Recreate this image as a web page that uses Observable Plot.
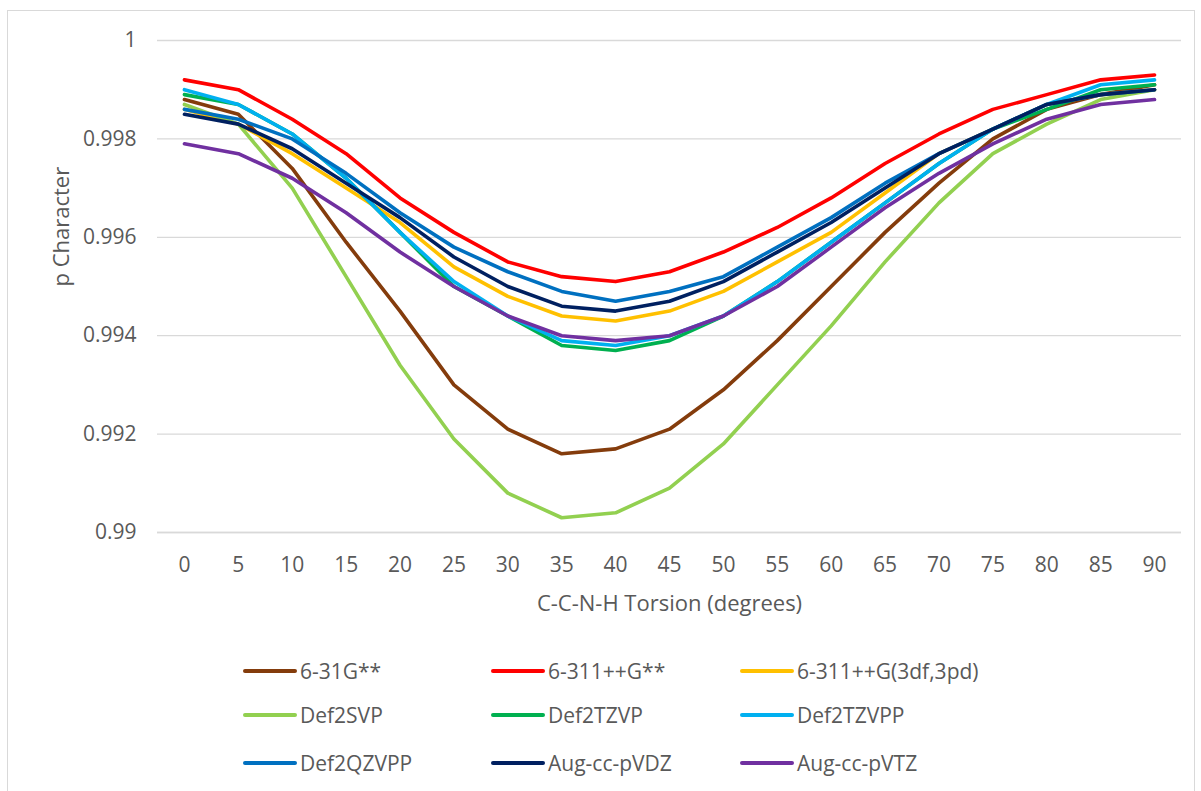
<!DOCTYPE html>
<html>
<head>
<meta charset="utf-8">
<script src="https://cdn.jsdelivr.net/npm/d3@7"></script>
<script src="https://cdn.jsdelivr.net/npm/@observablehq/plot@0.6"></script>
<style>
  html, body { margin: 0; padding: 0; background: #fff; }
  body { width: 1201px; height: 791px; position: relative; overflow: hidden; font-family: "Open Sans", sans-serif; color: #595959; }
  #frame { position: absolute; left: 7px; top: 10px; width: 1188px; height: 800px; border: 1.3px solid #d9d9d9; box-sizing: border-box; }
  #chart { position: absolute; left: 0; top: 0; }
  #legend { position: absolute; left: 0; top: 0; width: 1201px; }
  .item { position: absolute; display: flex; align-items: center; font-size: 21px; white-space: nowrap; transform: translateY(-50%); }
  .swatch { display: inline-block; width: 54px; height: 4px; border-radius: 2px; margin-right: 3px; }
</style>
</head>
<body>
<div id="frame"></div>
<div id="chart"></div>
<div id="legend"></div>
<script>
// Torsion angles (x categories)
const torsion = [0, 5, 10, 15, 20, 25, 30, 35, 40, 45, 50, 55, 60, 65, 70, 75, 80, 85, 90];

// Series values (p character)
const b631Gss      = [0.9988, 0.9985, 0.9974, 0.9959, 0.9945, 0.9930, 0.9921, 0.9916, 0.9917, 0.9921, 0.9929, 0.9939, 0.9950, 0.9961, 0.9971, 0.9980, 0.9986, 0.9989, 0.9991];
const b6311ppGss   = [0.9992, 0.9990, 0.9984, 0.9977, 0.9968, 0.9961, 0.9955, 0.9952, 0.9951, 0.9953, 0.9957, 0.9962, 0.9968, 0.9975, 0.9981, 0.9986, 0.9989, 0.9992, 0.9993];
const b6311ppG3df  = [0.9986, 0.9983, 0.9977, 0.9970, 0.9963, 0.9954, 0.9948, 0.9944, 0.9943, 0.9945, 0.9949, 0.9955, 0.9961, 0.9969, 0.9977, 0.9982, 0.9987, 0.9989, 0.9990];
const def2SVP      = [0.9987, 0.9983, 0.9970, 0.9952, 0.9934, 0.9919, 0.9908, 0.9903, 0.9904, 0.9909, 0.9918, 0.9930, 0.9942, 0.9955, 0.9967, 0.9977, 0.9983, 0.9988, 0.9990];
const def2TZVP     = [0.9989, 0.9987, 0.9981, 0.9972, 0.9961, 0.9950, 0.9944, 0.9938, 0.9937, 0.9939, 0.9944, 0.9951, 0.9959, 0.9967, 0.9975, 0.9982, 0.9986, 0.9990, 0.9991];
const def2TZVPP    = [0.9990, 0.9987, 0.9981, 0.9972, 0.9961, 0.9951, 0.9944, 0.9939, 0.9938, 0.9940, 0.9944, 0.9951, 0.9959, 0.9967, 0.9975, 0.9982, 0.9987, 0.9991, 0.9992];
const def2QZVPP    = [0.9986, 0.9984, 0.9980, 0.9973, 0.9965, 0.9958, 0.9953, 0.9949, 0.9947, 0.9949, 0.9952, 0.9958, 0.9964, 0.9971, 0.9977, 0.9982, 0.9987, 0.9989, 0.9990];
const augccpVDZ    = [0.9985, 0.9983, 0.9978, 0.9971, 0.9964, 0.9956, 0.9950, 0.9946, 0.9945, 0.9947, 0.9951, 0.9957, 0.9963, 0.9970, 0.9977, 0.9982, 0.9987, 0.9989, 0.9990];
const augccpVTZ    = [0.9979, 0.9977, 0.9972, 0.9965, 0.9957, 0.9950, 0.9944, 0.9940, 0.9939, 0.9940, 0.9944, 0.9950, 0.9958, 0.9966, 0.9973, 0.9979, 0.9984, 0.9987, 0.9988];

const seriesNames = ["6-31G**", "6-311++G**", "6-311++G(3df,3pd)", "Def2SVP", "Def2TZVP", "Def2TZVPP", "Def2QZVPP", "Aug-cc-pVDZ", "Aug-cc-pVTZ"];
const seriesValues = [b631Gss, b6311ppGss, b6311ppG3df, def2SVP, def2TZVP, def2TZVPP, def2QZVPP, augccpVDZ, augccpVTZ];
const seriesColors = ["#843C0C", "#FF0000", "#FFC000", "#92D050", "#00B050", "#00B0F0", "#0070C0", "#002060", "#7030A0"];

const yTicks = [0.99, 0.992, 0.994, 0.996, 0.998, 1];
const xTitle = "C-C-N-H Torsion (degrees)";
const yTitle = "p Character";

const data = seriesNames.flatMap((name, i) =>
  torsion.map((t, j) => ({ series: name, torsion: t, value: seriesValues[i][j] }))
);

const chart = Plot.plot({
  width: 1201,
  height: 630,
  marginTop: 40,
  marginBottom: 98,
  marginLeft: 157,
  marginRight: 20,
  style: { fontFamily: "'Open Sans', sans-serif", fontSize: "21px", color: "#595959", background: "transparent", overflow: "visible" },
  x: { type: "point", domain: torsion, padding: 0.5, round: false, label: null },
  y: { domain: [0.99, 1], label: null },
  color: { domain: seriesNames, range: seriesColors },
  marks: [
    Plot.gridY(yTicks, { stroke: "#d9d9d9", strokeOpacity: 1, strokeWidth: 1.3 }),
    Plot.ruleY([0.99], { stroke: "#d9d9d9", strokeWidth: 1.3 }),
    Plot.axisY(yTicks, { tickSize: 0, tickPadding: 21, tickFormat: d => String(+d.toFixed(3)), fill: "#595959", label: null }),
    Plot.axisX(torsion, { tickSize: 0, tickPadding: 25, fill: "#595959", label: null }),
    Plot.lineY(data, { x: "torsion", y: "value", z: "series", stroke: "series", strokeWidth: 3.6, strokeLinejoin: "round", strokeLinecap: "round" }),
    Plot.text([xTitle], { frameAnchor: "bottom", dy: 78, fill: "#595959", fontSize: 22 }),
    Plot.text([yTitle], { frameAnchor: "left", dx: -96, rotate: -90, fill: "#595959", fontSize: 22 })
  ]
});
document.getElementById("chart").appendChild(chart);

// Legend (HTML, below the plot area)
const legendCols = [243, 491, 740];
const legendRows = [671, 715, 763];
const legend = document.getElementById("legend");
seriesNames.forEach((name, i) => {
  const item = document.createElement("div");
  item.className = "item";
  item.style.left = legendCols[i % 3] + "px";
  item.style.top = legendRows[Math.floor(i / 3)] + "px";
  const sw = document.createElement("span");
  sw.className = "swatch";
  sw.style.background = seriesColors[i];
  const label = document.createElement("span");
  label.textContent = name;
  item.appendChild(sw);
  item.appendChild(label);
  legend.appendChild(item);
});
</script>
</body>
</html>
